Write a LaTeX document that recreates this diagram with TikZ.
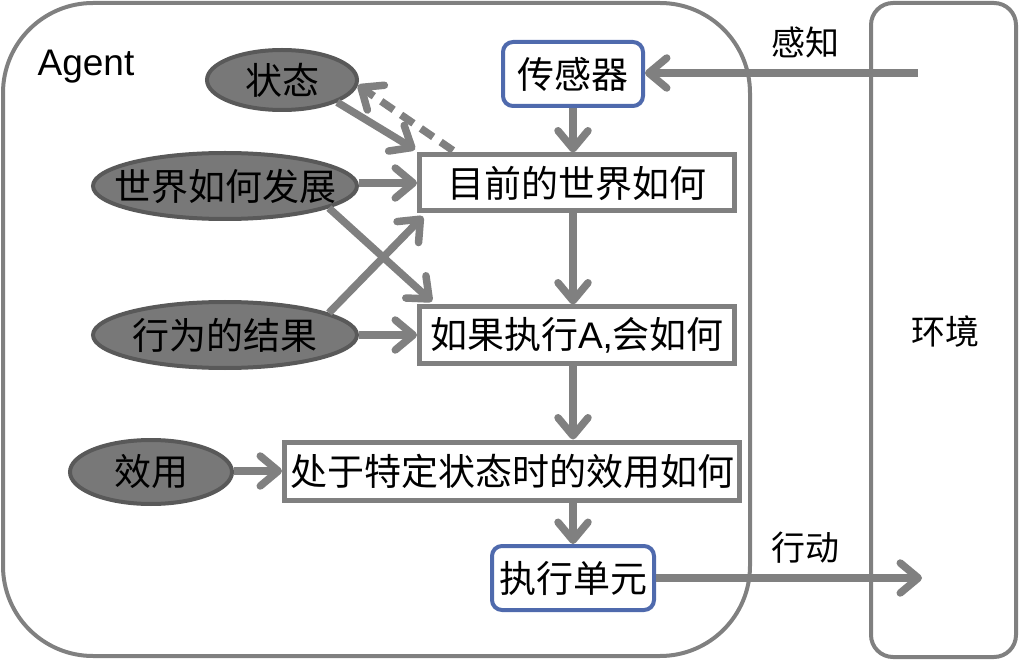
\documentclass[tikz,border=0pt]{standalone}
\usepackage{fontspec}
\setmainfont{Liberation Sans}
\newfontfamily\cjk{Noto Sans CJK SC}
\usetikzlibrary{arrows.meta,shapes.geometric,calc}
\definecolor{lgray}{HTML}{808080}
\definecolor{egray}{HTML}{787878}
\definecolor{edark}{HTML}{595959}
\definecolor{bblue}{HTML}{4F6AAD}
\begin{document}
\begin{tikzpicture}[x=1pt,y=-1pt,
  frame/.style={draw=lgray,line width=4pt},
  ell/.style={ellipse,draw=edark,fill=egray,line width=4pt,inner xsep=-25pt,inner ysep=0pt,font=\cjk\fontsize{37}{42}\selectfont},
  wbox/.style={rectangle,draw=lgray,fill=white,line width=5pt,inner sep=0pt,font=\cjk\fontsize{37}{42}\selectfont},
  bbox/.style={rectangle,rounded corners=10pt,draw=bblue,fill=white,line width=4pt,inner sep=0pt,font=\cjk\fontsize{37}{42}\selectfont},
  lbl/.style={font=\cjk\fontsize{34}{38}\selectfont},
  conn/.style={draw=lgray,line width=7.5pt,-{Straight Barb[round,length=18pt,width=30pt]}},
  dconn/.style={conn,dash pattern=on 15pt off 9pt}]
\useasboundingbox (0,0) rectangle (1020,660);
\draw[frame,rounded corners=90pt] (3,3) rectangle (750,656);
\draw[frame,rounded corners=22pt] (871,3) rectangle (1016,657);
\node[font=\fontsize{37}{42}\selectfont] (agent) at (86,67) {Agent};
\node[lbl] (env) at (945,332) {环境};
\node[lbl] (perc) at (805,42) {感知};
\node[lbl] (act) at (805,548) {行动};

\node[ell,minimum width=150pt,minimum height=60pt] (s) at (282,80) {状态};
\node[ell,minimum width=264pt,minimum height=66pt] (w) at (225,186) {世界如何发展};
\node[ell,minimum width=264pt,minimum height=66pt] (r) at (225,335) {行为的结果};
\node[ell,minimum width=162pt,minimum height=64pt] (u) at (151,472) {效用};

\node[bbox,minimum width=140pt,minimum height=64pt] (sen) at (573,74) {传感器};
\node[wbox,minimum width=315pt,minimum height=56pt] (m) at (577,183) {目前的世界如何};
\node[wbox,minimum width=315pt,minimum height=56pt] (i) at (577,335) {{\cjk 如果执行}{\fontspec{Liberation Sans}A,}{\cjk 会如何}};
\node[wbox,minimum width=455pt,minimum height=58pt] (p) at (512,471) {处于特定状态时的效用如何};
\node[bbox,minimum width=162pt,minimum height=64pt] (ex) at (573,578) {执行单元};

\coordinate (pin) at (918,73);
\coordinate (pout) at (922,577);

\draw[conn] (pin) -- (sen.east |- pin);
\draw[conn] (sen.south) -- (sen.south |- m.north);
\draw[conn] (sen.south |- m.south) -- (sen.south |- i.north);
\draw[conn] (sen.south |- i.south) -- (sen.south |- p.north);
\draw[conn] (sen.south |- p.south) -- (ex.north);
\draw[conn] (ex.east) -- (pout |- ex.east);

\draw[conn] (s.-22) -- ($(m.north west)+(-2,-3)$);
\draw[dconn] ($(m.north west)+(36,-2)$) -- (s.-4);
\draw[conn] (w.east |- m.west) -- (m.west);
\draw[conn] (w.-12) -- ($(i.north west)+(15,-3)$);
\draw[conn] (r.12) -- ($(m.south west)+(6,3)$);
\draw[conn] (r.east |- i.west) -- (i.west);
\draw[conn] (u.east |- p.west) -- (p.west);
\end{tikzpicture}
\end{document}
